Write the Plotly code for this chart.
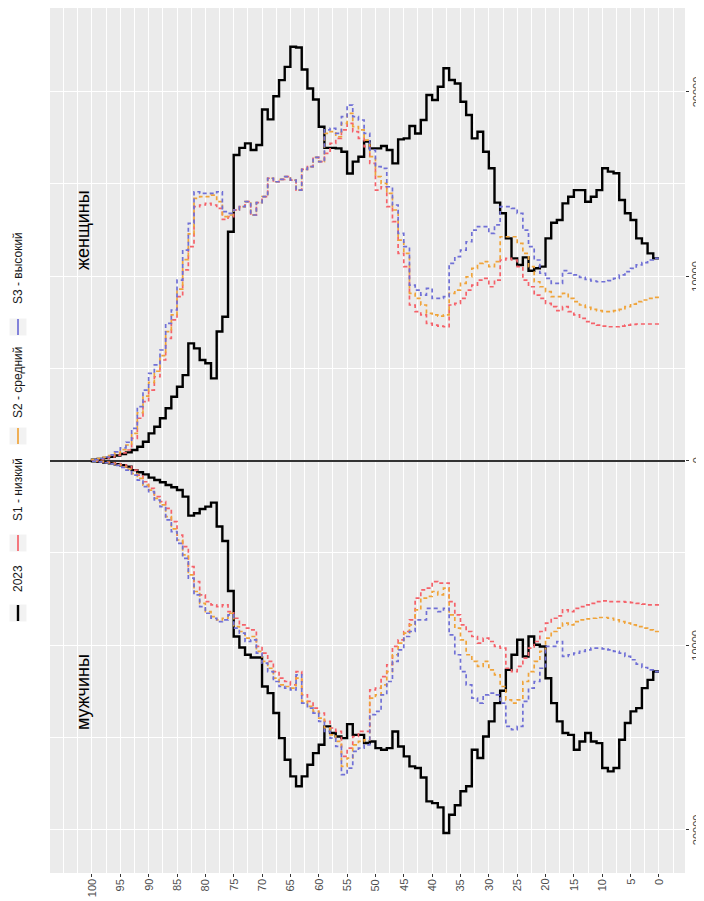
import plotly.graph_objects as go

AGES = list(range(0, 101))

# Women (upper half), values by age 0..100
WOMEN_2023 = [10970, 11240, 11780, 12050, 13050, 13410, 14130, 15580, 15670, 15850,
              14670, 14310, 14040, 14670, 14670, 14310, 13950, 13050, 12900, 12050,
              10520, 10430, 10300, 11020, 10610, 10970, 12050, 13410, 13990, 15850,
              16750, 17830, 17470, 18740, 19460, 20450, 20640, 21270, 20270, 19550,
              19820, 18470, 17740, 18140, 17470, 17420, 16120, 16840, 17060, 16930,
              16930, 17300, 16480, 16210, 15570, 16750, 16930, 16960, 16960, 18100,
              19580, 20180, 21210, 22400, 22440, 21350, 20630, 19760, 18500, 19040,
              17110, 16840, 17200, 16960, 16570, 12410, 7800, 7000, 4460, 5280,
              5460, 6090, 6360, 4640, 4010, 3470, 2840, 2300, 1840, 1480,
              1030, 760, 580, 450, 360, 280, 210, 150, 100, 60, 30]
WOMEN_S1 = [7410, 7410, 7410, 7410, 7390, 7350, 7300, 7260, 7260, 7300,
            7350, 7440, 7540, 7720, 7900, 8080, 8350, 8130, 8350, 8530,
            8800, 8980, 9430, 9790, 10520, 10880, 10970, 10880, 9790, 9430,
            9880, 9790, 9520, 9250, 8800, 8530, 8440, 7260, 7300, 7350,
            7440, 7900, 8080, 8440, 10520, 11240, 12960, 13770, 14850, 14670,
            16120, 17020, 17470, 17840, 18290, 17930, 17470, 17200, 16660, 16210,
            16440, 15940, 15790, 14670, 15210, 15400, 15250, 15120, 15310, 14310,
            13990, 13320, 14040, 13770, 13590, 13230, 13080, 13680, 13860, 13950,
            13860, 13770, 11600, 10340, 8890, 7630, 6630, 5460, 4550, 3830,
            3200, 2300, 1210, 580, 420, 300, 200, 130, 80, 40, 15]
WOMEN_S2 = [8850, 8800, 8710, 8620, 8490, 8350, 8200, 8130, 8080, 8080,
            8130, 8200, 8310, 8440, 8620, 8800, 9070, 8890, 8890, 9160,
            9430, 9700, 10520, 11240, 11780, 12140, 12140, 12140, 10790, 10520,
            10790, 10700, 10430, 9970, 9610, 9250, 9070, 7900, 7840, 7900,
            7990, 8440, 8800, 9070, 11240, 11960, 13590, 14490, 15030, 15400,
            16480, 17380, 17930, 18110, 18830, 18290, 17560, 17840, 17740, 16210,
            16440, 15940, 15790, 14670, 15210, 15400, 15250, 15120, 15310, 14310,
            13990, 13320, 14040, 13770, 13590, 13320, 13230, 14040, 14400, 14310,
            14310, 14220, 12300, 10900, 9300, 7900, 7000, 5700, 4850, 4250,
            3500, 2600, 1480, 850, 600, 420, 280, 180, 110, 55, 20]
WOMEN_S3 = [10970, 10880, 10740, 10610, 10430, 10250, 10070, 9880, 9760, 9700,
            9700, 9740, 9830, 9940, 10070, 10160, 10300, 9610, 9610, 9880,
            10160, 10880, 11600, 12500, 13410, 13680, 13770, 13770, 12780, 12320,
            12690, 12690, 12500, 11870, 11420, 11060, 10700, 8890, 8800, 8800,
            9340, 8980, 9250, 9520, 11600, 12320, 13860, 14850, 15850, 15940,
            16840, 17740, 18470, 18650, 19280, 18650, 17740, 18020, 17930, 16210,
            16440, 15940, 15790, 14670, 15210, 15400, 15250, 15120, 15310, 14310,
            13990, 13320, 14040, 13770, 13590, 13410, 13500, 14580, 14490, 14490,
            14490, 14580, 12870, 11420, 9790, 8170, 7440, 6000, 5190, 4730,
            3830, 2930, 1750, 1000, 700, 480, 320, 200, 120, 60, 20]

# Men (lower half), values by age 0..100
MEN_2023 = [11430, 11880, 12330, 13410, 13590, 14220, 15130, 16660, 16840, 16660,
            15310, 15220, 14760, 15220, 15670, 14860, 14760, 14130, 13140, 11790,
            10070, 9980, 9530, 10610, 9710, 10520, 11340, 12470, 13140, 14130,
            14950, 16120, 15670, 17650, 17920, 18680, 19190, 20180, 18790, 18560,
            18470, 17170, 16660, 16570, 16030, 15490, 14680, 15580, 15670, 15580,
            15220, 15300, 14860, 14860, 14280, 15040, 14950, 14760, 14400, 15400,
            15850, 16480, 17110, 17650, 17110, 16210, 15040, 13680, 12600, 12240,
            10670, 10670, 10520, 10130, 9530, 7060, 4350, 3570, 2270, 2490,
            2620, 2850, 2980, 1950, 1590, 1440, 1320, 1170, 1050, 920,
            740, 630, 510, 320, 250, 190, 140, 100, 60, 35, 15]
MEN_S1 = [7820, 7820, 7780, 7730, 7690, 7670, 7640, 7640, 7640, 7600,
          7640, 7730, 7820, 7910, 8000, 8180, 8090, 8410, 8540, 8810,
          9260, 9800, 10160, 10700, 11150, 11430, 11250, 10160, 10070, 9800,
          9620, 9890, 9530, 9260, 8900, 8360, 7640, 6640, 6640, 6550,
          6910, 7000, 7450, 8630, 9260, 9710, 10070, 11060, 11700, 12330,
          12420, 14670, 14670, 14950, 15580, 16030, 14670, 14490, 14130, 13680,
          13410, 13050, 12690, 11430, 12150, 11970, 11790, 11430, 10880, 10430,
          10070, 9170, 9080, 8900, 8540, 8180, 7820, 7910, 7820, 7640,
          7270, 6550, 5740, 4660, 4030, 3300, 2580, 2220, 1950, 1500,
          1140, 780, 510, 320, 230, 160, 110, 70, 40, 20, 8]
MEN_S2 = [9260, 9170, 9080, 8990, 8900, 8810, 8720, 8630, 8540, 8500,
          8500, 8540, 8570, 8630, 8720, 8900, 8810, 9080, 9260, 9620,
          10340, 10880, 11430, 11970, 12960, 13140, 12960, 12240, 11610, 11340,
          10880, 11150, 10880, 10520, 9710, 9080, 8360, 6910, 7270, 7090,
          7360, 7450, 8090, 8900, 9350, 9890, 10520, 11430, 12150, 12690,
          12870, 15130, 15220, 15400, 16120, 16570, 15220, 14860, 14490, 13950,
          13590, 13320, 13050, 11790, 12330, 12240, 12150, 11790, 11250, 10880,
          10340, 9530, 9620, 9260, 8990, 8270, 8540, 8630, 8450, 8180,
          7730, 7090, 6190, 5100, 4300, 3700, 3030, 2400, 2040, 1600,
          1320, 960, 700, 460, 330, 230, 160, 100, 55, 28, 10]
MEN_S3 = [11430, 11340, 11210, 11030, 10790, 10610, 10430, 10340, 10250, 10200,
          10160, 10160, 10250, 10340, 10430, 10520, 10610, 9800, 10070, 10070,
          11250, 11970, 12330, 13050, 14400, 14580, 14400, 13140, 12690, 12600,
          12690, 13140, 12870, 12150, 11430, 10520, 9440, 8000, 8180, 8000,
          8000, 8630, 8630, 9260, 9530, 10250, 10880, 11970, 12690, 13590,
          13770, 15400, 15580, 15760, 16660, 17020, 15490, 15040, 14670, 14130,
          13680, 13410, 13140, 11610, 12420, 12330, 12240, 11970, 11430, 10970,
          10430, 9710, 9800, 9350, 9080, 8360, 8630, 8720, 8540, 8270,
          7910, 7270, 6370, 5290, 4480, 3840, 3210, 2490, 2130, 1680,
          1410, 1050, 780, 510, 360, 250, 170, 110, 60, 30, 10]

SERIES_NAMES = ["2023", "S1 - низкий", "S2 - средний", "S3 - высокий"]
SERIES_COLORS = ["#000000", "#F5626A", "#F0A43A", "#7070D6"]
AGE_TICKS = list(range(0, 101, 5))
POP_TICKS = [-20000, -10000, 0, 10000, 20000]
POP_TICK_TEXT = ["20000", "10000", "0", "10000", "20000"]
SIDE_LABELS = ["женщины", "мужчины"]

women = [WOMEN_2023, WOMEN_S1, WOMEN_S2, WOMEN_S3]
men = [MEN_2023, MEN_S1, MEN_S2, MEN_S3]

fig = go.Figure()
for i, name in enumerate(SERIES_NAMES):
    solid = i == 0
    line = dict(color=SERIES_COLORS[i], width=2.4 if solid else 1.7,
                shape="hv", dash="solid" if solid else "4px,3px")
    fig.add_trace(go.Scatter(x=AGES, y=women[i], mode="lines", line=line,
                             name=name, showlegend=False))
    fig.add_trace(go.Scatter(x=AGES, y=[-v for v in men[i]], mode="lines", line=line,
                             name=name, showlegend=False))

# The page body has an 8px default margin, so the figure starts at (8, 8)
OFF = 8
SCR_W, SCR_H = 704, 901
W, H = SCR_W - OFF, SCR_H - OFF
# plot area in screenshot pixels
L, R, T, B = 50, 685, 8, 873


def px(x):
    return (x - L) / (R - L)


def py(y):
    return (B - y) / (B - T)


minor_age = [a * 2.5 for a in range(-1, 44) if (a * 2.5) % 5 != 0] + [105]

fig.update_layout(
    width=W, height=H,
    margin=dict(l=L - OFF, r=SCR_W - R, t=T - OFF, b=SCR_H - B, pad=0),
    plot_bgcolor="#EBEBEB", paper_bgcolor="white",
    font=dict(family="Liberation Sans, Arial, sans-serif", color="#1A1A1A"),
    xaxis=dict(range=[107.4, -4.6], tickmode="array", tickvals=AGE_TICKS,
               showticklabels=False,
               ticks="outside", ticklen=3, tickcolor="#333333", tickwidth=1,
               showgrid=True, gridcolor="white", gridwidth=1.1,
               minor=dict(tickvals=minor_age, showgrid=True, gridcolor="white",
                          gridwidth=0.6),
               zeroline=False, showline=False, automargin=False),
    yaxis=dict(range=[-22350, 24540], side="right", tickmode="array",
               tickvals=POP_TICKS, showticklabels=False,
               ticks="outside", ticklen=3, tickcolor="#333333", tickwidth=1,
               showgrid=True, gridcolor="white", gridwidth=1.1,
               minor=dict(tickvals=[-15000, -5000, 5000, 15000], showgrid=True,
                          gridcolor="white", gridwidth=0.6),
               zeroline=True, zerolinecolor="#333333", zerolinewidth=1.6,
               showline=False, automargin=False),
)

annotations = []
# axis tick labels, rotated as in the reference (text rotates about its centre)
for a in AGE_TICKS:
    n = len(str(a))
    annotations.append(dict(x=a, xref="x", y=py(879 + 3.06 * n), yref="paper",
                            text=str(a), showarrow=False, textangle=-90,
                            xanchor="center", yanchor="middle",
                            font=dict(size=11, color="#4D4D4D")))
for v, t in zip(POP_TICKS, POP_TICK_TEXT):
    annotations.append(dict(x=px(696.5), xref="paper", y=v, yref="y", text=t,
                            showarrow=False, textangle=-90, xanchor="center",
                            yanchor="middle", font=dict(size=11, color="#4D4D4D")))

for lbl, cy in zip(SIDE_LABELS, [230, 692]):
    annotations.append(dict(x=px(83), y=py(cy), text=lbl, xref="paper", yref="paper",
                            showarrow=False, textangle=-90, xanchor="center",
                            yanchor="middle", font=dict(size=18, color="black")))

# custom rotated legend
key_centers = [613, 543, 436, 327]
label_centers = [579, 490, 383, 268]
shapes = []
for i, name in enumerate(SERIES_NAMES):
    cy = key_centers[i]
    shapes.append(dict(type="rect", xref="paper", yref="paper",
                       x0=px(18 - 8.5), x1=px(18 + 8.5),
                       y0=py(cy + 8.5), y1=py(cy - 8.5),
                       fillcolor="#F2F2F2", line=dict(width=0), layer="above"))
    shapes.append(dict(type="line", xref="paper", yref="paper",
                       x0=px(18), x1=px(18), y0=py(cy + 8), y1=py(cy - 8),
                       line=dict(color=SERIES_COLORS[i], width=2.4 if i == 0 else 1.7),
                       layer="above"))
    annotations.append(dict(x=px(18), y=py(label_centers[i]), text=name,
                            xref="paper", yref="paper", showarrow=False,
                            textangle=-90, xanchor="center", yanchor="middle",
                            font=dict(size=12, color="#1A1A1A")))

fig.update_layout(annotations=annotations, shapes=shapes)
fig.write_html("out.html")
